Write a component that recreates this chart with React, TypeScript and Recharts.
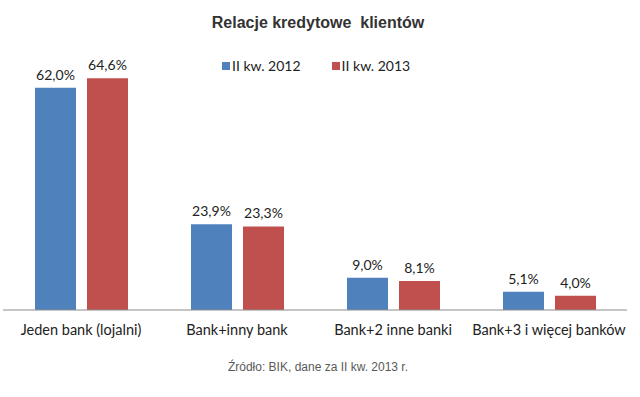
import { Bar, BarChart, LabelList, XAxis, YAxis } from "recharts";

const categories = [
  "Jeden bank (lojalni)",
  "Bank+inny bank",
  "Bank+2 inne banki",
  "Bank+3 i więcej banków",
];
const q2012 = [62.0, 23.9, 9.0, 5.1];
const q2013 = [64.6, 23.3, 8.1, 4.0];
const seriesNames = ["II kw. 2012", "II kw. 2013"];
const seriesColors = ["#4F81BD", "#C0504D"];

const data = categories.map((name, i) => ({
  name,
  q2012: q2012[i],
  q2013: q2013[i],
}));

const fmt = (v: any) => `${Number(v).toFixed(1).replace(".", ",")}%`;

const labelFont = "Lato, 'Open Sans', sans-serif";

export default function App() {
  return (
    <div style={{ position: "relative", width: 640, height: 397, background: "#fff" }}>
      <style>{`body{margin:0}`}</style>
      <div
        style={{
          position: "absolute",
          top: 14,
          left: 0,
          width: 636,
          textAlign: "center",
          fontFamily: "'Liberation Sans Narrow', 'Liberation Sans', sans-serif",
          fontWeight: "bold",
          fontSize: 16,
          color: "#333",
          whiteSpace: "pre",
        }}
      >
        {"Relacje kredytowe  klientów"}
      </div>
      <div
        style={{
          position: "absolute",
          top: 57,
          left: 222,
          display: "flex",
          fontFamily: labelFont,
          fontSize: 14,
          color: "#222",
          zIndex: 1,
        }}
      >
        {seriesNames.map((n, i) => (
          <div key={n} style={{ display: "flex", alignItems: "center", marginRight: 31 }}>
            <span style={{ width: 8, height: 8, background: seriesColors[i], marginRight: 2 }} />
            {n}
          </div>
        ))}
      </div>
      <BarChart
        width={640}
        height={397}
        data={data}
        margin={{ top: 59, right: 13, left: 3, bottom: 57 }}
        barSize={41}
        barGap={11}
      >
        <XAxis
          dataKey="name"
          height={30}
          tickLine={false}
          axisLine={{ stroke: "#8c8c8c" }}
          tick={{ fill: "#222", fontSize: 14.5, fontFamily: labelFont, dy: 7 }}
          interval={0}
        />
        <YAxis hide domain={[0, 70]} />
        <Bar dataKey="q2012" name={seriesNames[0]} fill={seriesColors[0]} isAnimationActive={false}>
          <LabelList
            dataKey="q2012"
            position="top"
            offset={8}
            formatter={fmt}
            style={{ fill: "#222", fontSize: 14, fontFamily: labelFont }}
          />
        </Bar>
        <Bar dataKey="q2013" name={seriesNames[1]} fill={seriesColors[1]} isAnimationActive={false}>
          <LabelList
            dataKey="q2013"
            position="top"
            offset={8}
            formatter={fmt}
            style={{ fill: "#222", fontSize: 14, fontFamily: labelFont }}
          />
        </Bar>
      </BarChart>
      <div
        style={{
          position: "absolute",
          top: 360,
          left: 0,
          width: 636,
          textAlign: "center",
          fontFamily: "'Liberation Sans', Arial, sans-serif",
          fontSize: 12,
          color: "#595959",
        }}
      >
        Źródło: BIK, dane za II kw. 2013 r.
      </div>
    </div>
  );
}
